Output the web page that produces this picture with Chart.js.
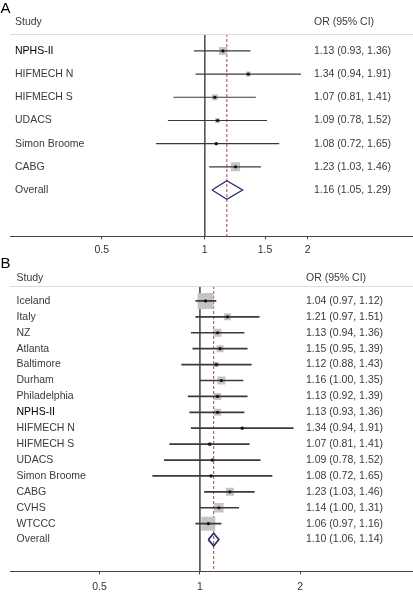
<!DOCTYPE html>
<html>
<head>
<meta charset="utf-8">
<script src="https://cdn.jsdelivr.net/npm/chart.js@4.4.1/dist/chart.umd.min.js"></script>
<style>
  html, body { margin: 0; padding: 0; background: #fff; }
  canvas { display: block; }
</style>
</head>
<body>
<canvas id="chartA" width="413" height="256"></canvas>
<canvas id="chartB" width="413" height="336"></canvas>
<script>
// === Panel A ===
const studiesA = ['NPHS-II', 'HIFMECH N', 'HIFMECH S', 'UDACS', 'Simon Broome', 'CABG'];
const orA = [1.13, 1.34, 1.07, 1.09, 1.08, 1.23];
const lowA = [0.93, 0.94, 0.81, 0.78, 0.72, 1.03];
const highA = [1.36, 1.91, 1.41, 1.52, 1.65, 1.46];
const weightA = [26.7, 10.4, 15.0, 10.4, 3.8, 33.7];
const overallA = [1.16, 1.05, 1.29];
const ticksA = [0.5, 1, 1.5, 2];

// === Panel B ===
const studiesB = ['Iceland', 'Italy', 'NZ', 'Atlanta', 'Baltimore', 'Durham', 'Philadelphia', 'NPHS-II',
  'HIFMECH N', 'HIFMECH S', 'UDACS', 'Simon Broome', 'CABG', 'CVHS', 'WTCCC'];
const orB = [1.04, 1.21, 1.13, 1.15, 1.12, 1.16, 1.13, 1.13, 1.34, 1.07, 1.09, 1.08, 1.23, 1.14, 1.06];
const lowB = [0.97, 0.97, 0.94, 0.95, 0.88, 1.00, 0.92, 0.93, 0.94, 0.81, 0.78, 0.72, 1.03, 1.00, 0.97];
const highB = [1.12, 1.51, 1.36, 1.39, 1.43, 1.35, 1.39, 1.36, 1.91, 1.41, 1.52, 1.65, 1.46, 1.31, 1.16];
const weightB = [25.6, 4.9, 6.4, 4.9, 2.5, 6.4, 4.9, 4.9, 0.9, 1.6, 0.9, 0.9, 6.4, 9.0, 19.6];
const overallB = [1.10, 1.06, 1.14];
const ticksB = [0.5, 1, 2];

const highlightStudy = 'NPHS-II';
const FONT = '"Liberation Sans", Arial, Helvetica, sans-serif';
const fmt = (e, l, h) => `${e.toFixed(2)} (${l.toFixed(2)}, ${h.toFixed(2)})`;

const forestText = {
  id: 'forestText',
  afterDatasetsDraw(chart, args, o) {
    const { ctx, chartArea, scales: { y } } = chart;
    ctx.save();
    // linea bajo la cabecera
    ctx.strokeStyle = '#dcdcdc';
    ctx.lineWidth = 1;
    ctx.beginPath();
    ctx.moveTo(chartArea.left, chartArea.top + 0.5);
    ctx.lineTo(chartArea.right, chartArea.top + 0.5);
    ctx.stroke();

    ctx.fillStyle = '#000';
    ctx.font = `15px ${FONT}`;
    ctx.textBaseline = 'alphabetic';
    ctx.textAlign = 'left';
    ctx.fillText(o.letter, 0.5, o.letterY);

    ctx.font = `10.5px ${FONT}`;
    ctx.textBaseline = 'middle';
    ctx.fillStyle = '#3a3a3a';
    const hy = y.getPixelForValue(o.headerRow);
    ctx.fillText('Study', o.labelX, hy);
    ctx.fillText('OR (95% CI)', o.valueX, hy);

    o.labels.forEach((lab, i) => {
      const py = y.getPixelForValue(i);
      ctx.fillStyle = lab === highlightStudy ? '#000' : '#3a3a3a';
      ctx.fillText(lab, o.labelX, py);
      ctx.fillStyle = '#3a3a3a';
      ctx.fillText(fmt(o.est[i], o.lo[i], o.hi[i]), o.valueX, py);
    });
    const n = o.labels.length;
    const oy = y.getPixelForValue(n);
    ctx.fillText('Overall', o.labelX, oy);
    ctx.fillText(fmt(o.overall[0], o.overall[1], o.overall[2]), o.valueX, oy);
    ctx.restore();
  }
};

function forest(id, s) {
  const n = s.studies.length;
  const rows = s.studies.map((_, i) => i);
  const datasets = [];

  // linea vertical en OR = 1
  datasets.push({
    data: [{ x: 1, y: s.yMin }, { x: 1, y: s.yMax }],
    showLine: true, pointRadius: 0, borderColor: '#555', borderWidth: 1, order: 9
  });
  // linea discontinua del efecto global
  datasets.push({
    data: [{ x: s.overall[0], y: s.yMin }, { x: s.overall[0], y: s.yMax }],
    showLine: true, pointRadius: 0, borderColor: '#a04848', borderWidth: 1,
    borderDash: [3, 2], order: 8
  });
  // cuadrados por peso
  datasets.push({
    data: rows.map(i => ({ x: s.est[i], y: i })),
    pointStyle: 'rect',
    pointRadius: s.weights.map(w => s.boxScale * Math.sqrt(w) / Math.SQRT2),
    pointBackgroundColor: '#c4c4c4', pointBorderWidth: 0, order: 7
  });
  // intervalos de confianza
  rows.forEach(i => {
    datasets.push({
      data: [{ x: s.lo[i], y: i }, { x: s.hi[i], y: i }],
      showLine: true, pointRadius: 0, borderColor: '#3a3a3a', borderWidth: s.ciWidth, order: 6
    });
  });
  // punto central
  datasets.push({
    data: rows.map(i => ({ x: s.est[i], y: i })),
    pointStyle: 'circle', pointRadius: 1.6,
    pointBackgroundColor: '#111', pointBorderWidth: 0, order: 5
  });
  // rombo global
  const [e, l, h] = s.overall;
  const d = 0.4;
  datasets.push({
    data: [{ x: l, y: n }, { x: e, y: n - d }, { x: h, y: n }, { x: e, y: n + d }, { x: l, y: n }],
    showLine: true, pointRadius: 0, borderColor: '#2c2a6e', borderWidth: s.diamondWidth,
    fill: false, tension: 0, order: 4
  });

  return new Chart(document.getElementById(id), {
    type: 'scatter',
    data: { datasets },
    plugins: [forestText],
    options: {
      responsive: false,
      animation: false,
      events: [],
      layout: { autoPadding: false, padding: { top: s.padTop, left: 10, right: 0, bottom: s.padBottom } },
      plugins: {
        legend: { display: false },
        tooltip: { enabled: false },
        forestText: {
          letter: s.letter, letterY: s.letterY, labelX: s.labelX, valueX: s.valueX,
          headerRow: s.headerRow, labels: s.studies, est: s.est, lo: s.lo, hi: s.hi,
          overall: s.overall
        }
      },
      scales: {
        x: {
          type: 'logarithmic', min: s.xMin, max: s.xMax, bounds: 'data',
          afterBuildTicks: sc => { sc.ticks = s.ticks.map(v => ({ value: v })); },
          ticks: {
            callback: v => String(v), color: '#333', padding: s.tickPad,
            font: { family: FONT, size: 10.5 }, maxRotation: 0, autoSkip: false
          },
          grid: { display: true, drawOnChartArea: false, drawTicks: true, tickLength: 3, color: '#444' },
          border: { display: true, color: '#444', width: 1 }
        },
        y: { type: 'linear', reverse: true, min: s.yMin, max: s.yMax, display: false }
      }
    }
  });
}

forest('chartA', {
  studies: studiesA, est: orA, lo: lowA, hi: highA, weights: weightA, overall: overallA,
  ticks: ticksA, xMin: 0.2696, xMax: 4.06, yMin: -0.73, yMax: 8,
  boxScale: 1.55, ciWidth: 1.1, diamondWidth: 1.3, tickPad: 4,
  padTop: 34, padBottom: -4, letter: 'A', letterY: 13, labelX: 15, valueX: 314, headerRow: -1.26
});

forest('chartB', {
  studies: studiesB, est: orB, lo: lowB, hi: highB, weights: weightB, overall: overallB,
  ticks: ticksB, xMin: 0.2693, xMax: 4.36, yMin: -0.94, yMax: 17,
  boxScale: 3.16, ciWidth: 1.7, diamondWidth: 1.7, tickPad: 6,
  padTop: 30, padBottom: -7, letter: 'B', letterY: 12, labelX: 16.5, valueX: 306, headerRow: -1.44
});
</script>
</body>
</html>
